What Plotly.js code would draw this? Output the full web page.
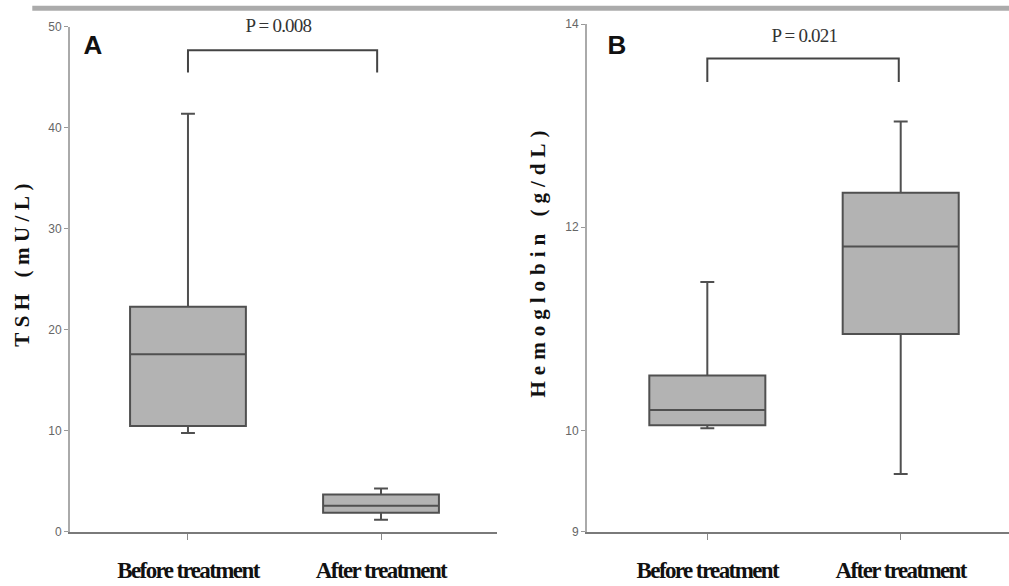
<!DOCTYPE html>
<html><head><meta charset="utf-8">
<script src="https://cdn.plot.ly/plotly-3.0.1.min.js"></script>
<style>
body{margin:0;background:#fff}#chart{width:1009px;height:586px}
.g-ytitle text{letter-spacing:5.5px}
.g-y2title text{letter-spacing:6px}
.g-ytitle, .g-y2title{transform:translate(0px,-17px)}
.xtick text, .x2tick text{letter-spacing:-1.6px}
.annotation-text-g text{letter-spacing:-0.8px}
</style>
</head><body><div id="chart"></div>
<script>
const categories = ["Before treatment", "After treatment"];
// Panel A: TSH (mU/L)
const tshLower = [9.8, 1.2];
const tshQ1 = [10.5, 1.9];
const tshMedian = [17.6, 2.6];
const tshQ3 = [22.3, 3.7];
const tshUpper = [41.4, 4.3];
// Panel B: Hemoglobin (g/dL)
const hbLower = [10.02, 9.57];
const hbQ1 = [10.05, 10.95];
const hbMedian = [10.2, 11.81];
const hbQ3 = [10.54, 12.34];
const hbUpper = [11.46, 13.04];
const tshTicks = [0, 10, 20, 30, 40, 50];
const hbTicks = [9, 10, 12, 14];
const pValues = ["P = 0.008", "P = 0.021"];
const panelLabels = ["A", "B"];

const boxStyle = {
  type: "box", fillcolor: "#b3b3b3",
  line: {color: "#505050", width: 2},
  width: 0.6, whiskerwidth: 0.12, showlegend: false, hoverinfo: "skip"
};
const traces = [
  Object.assign({}, boxStyle, {x: categories, q1: tshQ1, median: tshMedian, q3: tshQ3,
    lowerfence: tshLower, upperfence: tshUpper, xaxis: "x", yaxis: "y"}),
  Object.assign({}, boxStyle, {x: categories, q1: hbQ1, median: hbMedian, q3: hbQ3,
    lowerfence: hbLower, upperfence: hbUpper, xaxis: "x2", yaxis: "y2"})
];

const catFont = {family: "Liberation Serif", size: 23, color: "#111", weight: "bold"};
const tickFont = {family: "Liberation Sans Narrow, Liberation Sans", size: 12, color: "#666"};
function xax(domain, range) {
  return {domain: domain, range: range, type: "category", showline: true, linecolor: "#7a7a7a",
    linewidth: 2, ticks: "outside", ticklen: 6, tickcolor: "#8a8a8a", tickwidth: 1,
    tickfont: catFont, ticklabelstandoff: 10, showgrid: false, zeroline: false, fixedrange: true};
}
function yax(domain, range, ticks, anchor, title, size, standoff) {
  return {domain: domain, range: range, anchor: anchor, showline: true, linecolor: "#aaaaaa",
    linewidth: 2, ticks: "outside", ticklen: 4, tickcolor: "#999", tickvals: ticks,
    ticktext: ticks.map(String), tickfont: tickFont, showgrid: false, zeroline: false,
    title: {text: title, font: {family: "Liberation Serif", size: size, color: "#111", weight: "bold"},
      standoff: standoff}, fixedrange: true};
}
const layout = {
  width: 1009, height: 586, margin: {l: 0, r: 0, t: 0, b: 0},
  paper_bgcolor: "#fff", plot_bgcolor: "#fff",
  xaxis: xax([0.0694, 0.4926], [-0.611, 1.601]),
  yaxis: yax([0.0922, 0.954], [0, 50], tshTicks, "x", "TSH (mU/L)", 21, 13),
  xaxis2: xax([0.5818, 1.0], [-0.622, 1.56]),
  yaxis2: yax([0.0922, 0.959], [9, 14], hbTicks, "x2", "Hemoglobin (g/dL)", 21, 14),
  shapes: [
    {type: "line", xref: "paper", yref: "paper", x0: 0.032, x1: 1, y0: 0.986, y1: 0.986,
      line: {color: "#ababab", width: 5}},
    {type: "path", xref: "x", yref: "y", path: "M 0,45.5 L 0,47.7 L 0.98,47.7 L 0.98,45.5",
      line: {color: "#444", width: 2}},
    {type: "path", xref: "x2", yref: "y2", path: "M 0,13.43 L 0,13.66 L 0.99,13.66 L 0.99,13.43",
      line: {color: "#444", width: 2}}
  ],
  annotations: [
    {xref: "x", yref: "paper", x: 0.47, y: 0.957, yanchor: "middle", text: pValues[0], showarrow: false,
      font: {family: "Liberation Serif", size: 19, color: "#333"}},
    {xref: "x2", yref: "paper", x: 0.5, y: 0.94, yanchor: "middle", text: pValues[1], showarrow: false,
      font: {family: "Liberation Serif", size: 19, color: "#333"}},
    {xref: "paper", yref: "paper", x: 0.0803, y: 0.924, xanchor: "left", yanchor: "middle",
      text: panelLabels[0], showarrow: false,
      font: {family: "Liberation Sans", size: 26, color: "#111", weight: "bold"}},
    {xref: "paper", yref: "paper", x: 0.5995, y: 0.924, xanchor: "left", yanchor: "middle",
      text: panelLabels[1], showarrow: false,
      font: {family: "Liberation Sans", size: 26, color: "#111", weight: "bold"}}
  ]
};
Plotly.newPlot("chart", traces, layout, {staticPlot: true, displayModeBar: false});
</script></body></html>
